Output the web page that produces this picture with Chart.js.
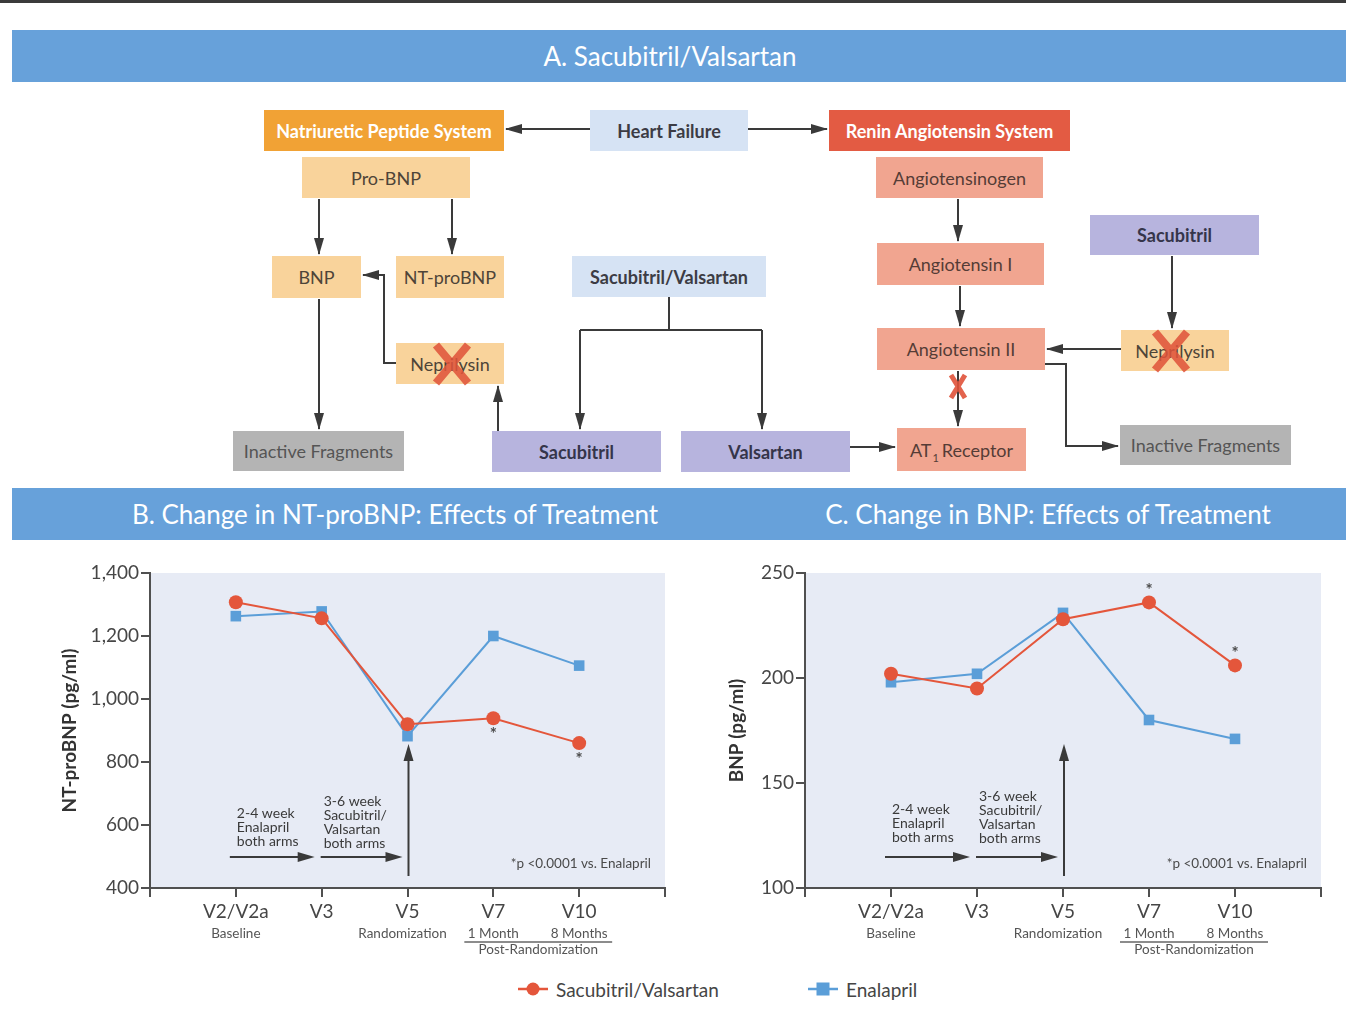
<!DOCTYPE html>
<html>
<head>
<meta charset="utf-8">
<title>Sacubitril/Valsartan: NT-proBNP and BNP</title>
<script src="https://cdn.jsdelivr.net/npm/chart.js@4.4.1/dist/chart.umd.min.js"></script>
<style>
  html, body { margin: 0; padding: 0; background: #fff; }
  #fig { position: relative; width: 1346px; height: 1030px; overflow: hidden; background: #fff;
         font-family: Lato, "Open Sans", "Noto Sans", sans-serif; }
  .topline { position: absolute; left: 0; top: 0; width: 1346px; height: 3px; background: #3b3b3b; }
  .band { position: absolute; left: 12px; width: 1334px; height: 52px; background: #67a1da; }
  .band span { position: absolute; top: 0; line-height: 52px; font-size: 26px; color: #fff;
               white-space: nowrap; transform: translateX(-50%); }
  .box { position: absolute; display: flex; align-items: center; justify-content: center;
         font-size: 18px; white-space: nowrap; box-sizing: border-box; }
  .b { font-weight: bold; }
  .sys-np  { background: #f1a235; color: #fff; }
  .sys-ras { background: #e35b43; color: #fff; }
  .hf      { background: #d6e3f4; color: #3c3c44; }
  .np      { background: #f9d39b; color: #4e4438; }
  .ras     { background: #f1a590; color: #553c36; }
  .drug    { background: #b7b4de; color: #35354a; }
  .inact   { background: #b4b4b4; color: #555; }
  .box .sub { font-size: 11px; position: relative; top: 5px; margin: 0 3px 0 1px; }
  #diagram { position: absolute; left: 0; top: 0; pointer-events: none; }
  canvas { position: absolute; }
  #legend { position: absolute; left: 0; top: 975px; width: 1346px; height: 28px; }
  .lg { position: absolute; top: 0; display: flex; align-items: center; height: 28px;
        font-size: 19px; color: #454545; }
  .lg svg { margin-right: 8px; }
</style>
</head>
<body>
<div id="fig">
  <div class="topline"></div>

  <div class="band" style="top:30px;"><span style="left:658px;">A. Sacubitril/Valsartan</span></div>

  <!-- natriuretic peptide branch -->
  <div class="box b sys-np" style="left:264px;top:110px;width:240px;height:41px;">Natriuretic Peptide System</div>
  <div class="box b hf"     style="left:590px;top:110px;width:158px;height:41px;">Heart Failure</div>
  <div class="box b sys-ras" style="left:829px;top:110px;width:241px;height:41px;">Renin Angiotensin System</div>
  <div class="box np"  style="left:302px;top:157px;width:168px;height:41px;">Pro-BNP</div>
  <div class="box np"  style="left:272px;top:256px;width:89px;height:42px;">BNP</div>
  <div class="box np"  style="left:396px;top:256px;width:108px;height:42px;">NT-proBNP</div>
  <div class="box np"  style="left:396px;top:343px;width:108px;height:41px;">Neprilysin</div>
  <div class="box inact" style="left:233px;top:431px;width:171px;height:40px;">Inactive Fragments</div>

  <!-- drug -->
  <div class="box b hf"   style="left:572px;top:256px;width:194px;height:41px;">Sacubitril/Valsartan</div>
  <div class="box b drug" style="left:492px;top:431px;width:169px;height:41px;">Sacubitril</div>
  <div class="box b drug" style="left:681px;top:431px;width:169px;height:41px;">Valsartan</div>

  <!-- renin angiotensin branch -->
  <div class="box ras" style="left:876px;top:157px;width:167px;height:41px;">Angiotensinogen</div>
  <div class="box ras" style="left:877px;top:243px;width:167px;height:42px;">Angiotensin I</div>
  <div class="box ras" style="left:877px;top:328px;width:168px;height:42px;">Angiotensin II</div>
  <div class="box ras" style="left:897px;top:428px;width:129px;height:43px;"><span>AT<span class="sub">1</span>Receptor</span></div>
  <div class="box b drug" style="left:1090px;top:215px;width:169px;height:40px;">Sacubitril</div>
  <div class="box np"  style="left:1121px;top:330px;width:108px;height:41px;">Neprilysin</div>
  <div class="box inact" style="left:1120px;top:425px;width:171px;height:40px;">Inactive Fragments</div>

  <svg id="diagram" width="1346" height="480" viewBox="0 0 1346 480">
    <defs>
      <marker id="ah" viewBox="0 0 17 10" refX="16" refY="5" markerWidth="17" markerHeight="10"
              markerUnits="userSpaceOnUse" orient="auto">
        <path d="M0,0 L17,5 L0,10 z" fill="#3a3a3a"/>
      </marker>
    </defs>
    <g fill="none" stroke="#3a3a3a" stroke-width="2" marker-end="url(#ah)">
      <path d="M590,129 H506"/>
      <path d="M748,129 H827"/>
      <path d="M319,199 V254"/>
      <path d="M452,199 V254"/>
      <path d="M319,299 V429"/>
      <path d="M396,363 H384 V275 H363"/>
      <path d="M498,431 V386"/>
      <path d="M580,330 V429" />
      <path d="M762,330 V429" />
      <path d="M850,447 H895"/>
      <path d="M958,199 V241"/>
      <path d="M960,286 V326"/>
      <path d="M958,371 V426"/>
      <path d="M1172,256 V328"/>
      <path d="M1121,349 H1047"/>
      <path d="M1045,364 H1066 V446 H1118"/>
    </g>
    <path d="M669,297 V330 M580,330 H762" fill="none" stroke="#3a3a3a" stroke-width="2"/>
    <!-- inhibition marks -->
    <g stroke="#e0533a" stroke-width="8" opacity="0.86" stroke-linecap="butt">
      <path d="M436,345 L468,383 M468,345 L436,383"/>
      <path d="M1155,332 L1187,370 M1187,332 L1155,370"/>
    </g>
    <g stroke="#e0533a" stroke-width="5" opacity="0.9">
      <path d="M951,375 L965,398 M965,375 L951,398"/>
    </g>
  </svg>

  <div class="band" style="top:488px;">
    <span style="left:383px;">B. Change in NT-proBNP: Effects of Treatment</span>
    <span style="left:1036px;">C. Change in BNP: Effects of Treatment</span>
  </div>

  <canvas id="chartB" width="700" height="420" style="left:0px;top:555px;"></canvas>
  <canvas id="chartC" width="686" height="420" style="left:660px;top:555px;"></canvas>

  <div id="legend"></div>
</div>

<script>
// Study visits along the x axis
const categories = ['V2/V2a', 'V3', 'V5', 'V7', 'V10'];
const visitNotes = ['Baseline', '', 'Randomization', '1 Month', '8 Months'];
const seriesNames = ['Sacubitril/Valsartan', 'Enalapril'];

// NT-proBNP (pg/ml) at each visit
const ntproSacVal = [1307, 1256, 920, 939, 860];
const ntproEnal   = [1263, 1278, 882, 1200, 1106];
// BNP (pg/ml) at each visit
const bnpSacVal = [202, 195, 228, 236, 206];
const bnpEnal   = [198, 202, 231, 180, 171];

// visits where Sacubitril/Valsartan differs from Enalapril (*p < 0.0001)
const significantVisits = [3, 4];

// run-in period notes
const runIn1 = ['2-4 week', 'Enalapril', 'both arms'];
const runIn2 = ['3-6 week', 'Sacubitril/', 'Valsartan', 'both arms'];
const footnote = '*p <0.0001 vs. Enalapril';

const RED = '#e4563b';
const BLUE = '#5b9ed8';
const AXIS = '#505050';
const FONT = 'Lato, "Open Sans", sans-serif';

const toPoints = arr => arr.map((v, i) => ({ x: i + 1, y: v }));

function arrow(ctx, x1, y1, x2, y2) {
  const ang = Math.atan2(y2 - y1, x2 - x1);
  const L = 17, W = 5;
  ctx.beginPath();
  ctx.moveTo(x1, y1);
  ctx.lineTo(x2 - Math.cos(ang) * (L - 2), y2 - Math.sin(ang) * (L - 2));
  ctx.stroke();
  ctx.beginPath();
  ctx.moveTo(x2, y2);
  ctx.lineTo(x2 - Math.cos(ang) * L - Math.sin(ang) * W, y2 - Math.sin(ang) * L + Math.cos(ang) * W);
  ctx.lineTo(x2 - Math.cos(ang) * L + Math.sin(ang) * W, y2 - Math.sin(ang) * L - Math.cos(ang) * W);
  ctx.closePath();
  ctx.fill();
}

// plot background
const plotBackground = {
  id: 'plotBackground',
  beforeDraw(chart) {
    const { ctx, chartArea: a } = chart;
    ctx.save();
    ctx.fillStyle = '#e7ebf5';
    ctx.fillRect(a.left, a.top, a.right - a.left, a.bottom - a.top);
    ctx.restore();
  }
};

// study-period arrows, notes and significance markers
const studyNotes = {
  id: 'studyNotes',
  beforeDatasetsDraw(chart, args, opts) {
    const { ctx, chartArea: a, scales: { x } } = chart;
    ctx.save();
    ctx.strokeStyle = '#3a3a3a';
    ctx.fillStyle = '#3a3a3a';
    ctx.lineWidth = 2;
    const ay = a.bottom - 31;
    arrow(ctx, x.getPixelForValue(1) - 6, ay, x.getPixelForValue(2) - 7, ay);
    arrow(ctx, x.getPixelForValue(2) - 1, ay, x.getPixelForValue(3) - 5, ay);
    const vx = x.getPixelForValue(3) + 1;
    arrow(ctx, vx, a.bottom - 12, vx, a.bottom - 144);

    ctx.font = '14px ' + FONT;
    ctx.fillStyle = '#3a3a3a';
    ctx.textAlign = 'left';
    ctx.textBaseline = 'middle';
    runIn1.forEach((t, i) => ctx.fillText(t, x.getPixelForValue(1) + 1, a.bottom - opts.run1Top + i * 14));
    runIn2.forEach((t, i) => ctx.fillText(t, x.getPixelForValue(2) + 2, a.bottom - opts.run2Top + i * 14));

    ctx.font = '13.5px ' + FONT;
    ctx.fillStyle = '#4a4a4a';
    ctx.textAlign = 'right';
    ctx.fillText(footnote, a.right - 14, a.bottom - 24);
    ctx.restore();
  },
  afterDraw(chart, args, opts) {
    const { ctx, chartArea: a, scales: { x } } = chart;
    ctx.save();
    // significance asterisks next to Sacubitril/Valsartan points
    const meta = chart.getDatasetMeta(0);
    ctx.font = 'bold 17px ' + FONT;
    ctx.fillStyle = '#4a4a4a';
    ctx.textAlign = 'center';
    ctx.textBaseline = 'middle';
    significantVisits.forEach(i => {
      const p = meta.data[i];
      ctx.fillText('*', p.x, p.y + opts.starOffset);
    });

    // visit descriptions below the tick labels
    ctx.font = '13.5px ' + FONT;
    ctx.fillStyle = '#555';
    const ny = a.bottom + 46;
    visitNotes.forEach((t, i) => {
      if (!t) return;
      const dx = i === 2 ? -5 : 0;
      ctx.fillText(t, x.getPixelForValue(i + 1) + dx, ny);
    });
    const ux1 = x.getPixelForValue(4) - 29, ux2 = x.getPixelForValue(5) + 33;
    ctx.strokeStyle = '#666';
    ctx.lineWidth = 1.5;
    ctx.beginPath();
    ctx.moveTo(ux1, ny + 8);
    ctx.lineTo(ux2, ny + 8);
    ctx.stroke();
    ctx.fillText('Post-Randomization', (ux1 + ux2) / 2, ny + 16);
    ctx.restore();
  }
};

function makeChart(id, sac, enal, yCfg, layout) {
  return new Chart(document.getElementById(id), {
    type: 'line',
    data: {
      datasets: [
        {
          label: seriesNames[0], data: toPoints(sac),
          borderColor: RED, backgroundColor: RED, borderWidth: 2,
          pointStyle: 'circle', pointRadius: 7, pointHoverRadius: 7, pointBorderWidth: 0
        },
        {
          label: seriesNames[1], data: toPoints(enal),
          borderColor: BLUE, backgroundColor: BLUE, borderWidth: 2,
          pointStyle: 'rect', pointRadius: 7.5, pointHoverRadius: 7.5, pointBorderWidth: 0
        }
      ]
    },
    options: {
      responsive: false,
      animation: false,
      layout: { padding: layout.padding },
      elements: { line: { tension: 0 } },
      plugins: {
        legend: { display: false },
        tooltip: { enabled: false },
        studyNotes: layout.notes
      },
      scales: {
        x: {
          type: 'linear', min: 0, max: 6,
          afterBuildTicks: s => { s.ticks = [0, 1, 2, 3, 4, 5, 6].map(v => ({ value: v })); },
          ticks: {
            autoSkip: false, maxRotation: 0, padding: 3,
            callback: v => categories[v - 1] || '',
            font: { family: FONT, size: 19 }, color: '#464646'
          },
          grid: { drawOnChartArea: false, drawTicks: true, tickLength: 9, color: AXIS, lineWidth: 2 },
          border: { color: AXIS, width: 2 },
          afterFit: s => { s.height = layout.xHeight; }
        },
        y: {
          min: yCfg.min, max: yCfg.max,
          ticks: {
            stepSize: yCfg.step, padding: 2,
            callback: v => v.toLocaleString('en-US'),
            font: { family: FONT, size: 19 }, color: '#464646'
          },
          grid: { drawOnChartArea: false, drawTicks: true, tickLength: 9, color: AXIS, lineWidth: 2 },
          border: { color: AXIS, width: 2 },
          title: {
            display: true, text: yCfg.title, color: '#333',
            font: { family: FONT, size: 19, weight: 'bold' },
            padding: { top: layout.titlePad, bottom: 0 }
          },
          afterFit: s => { s.width = layout.yWidth; }
        }
      }
    },
    plugins: [plotBackground, studyNotes]
  });
}

makeChart('chartB', ntproSacVal, ntproEnal,
  { min: 400, max: 1400, step: 200, title: 'NT-proBNP (pg/ml)' },
  { padding: { top: 18, right: 35, left: 0, bottom: 0 }, yWidth: 150, xHeight: 87, titlePad: 58,
    notes: { starOffset: 16, run1Top: 75, run2Top: 87 } });

makeChart('chartC', bnpSacVal, bnpEnal,
  { min: 100, max: 250, step: 50, title: 'BNP (pg/ml)' },
  { padding: { top: 18, right: 25, left: 0, bottom: 0 }, yWidth: 145, xHeight: 87, titlePad: 65,
    notes: { starOffset: -12, run1Top: 79, run2Top: 92 } });

// shared legend
const legend = document.getElementById('legend');
[[seriesNames[0], RED, 'circle', 518], [seriesNames[1], BLUE, 'rect', 808]].forEach(([name, col, shape, left]) => {
  const item = document.createElement('div');
  item.className = 'lg';
  item.style.left = left + 'px';
  const mark = shape === 'circle'
    ? `<circle cx="15" cy="7" r="6.5" fill="${col}"/>`
    : `<rect x="8.5" y="0.5" width="13" height="13" fill="${col}"/>`;
  item.innerHTML = `<svg width="30" height="14" viewBox="0 0 30 14"><line x1="0" y1="7" x2="30" y2="7" stroke="${col}" stroke-width="2.5"/>${mark}</svg><span>${name}</span>`;
  legend.appendChild(item);
});
</script>
</body>
</html>
